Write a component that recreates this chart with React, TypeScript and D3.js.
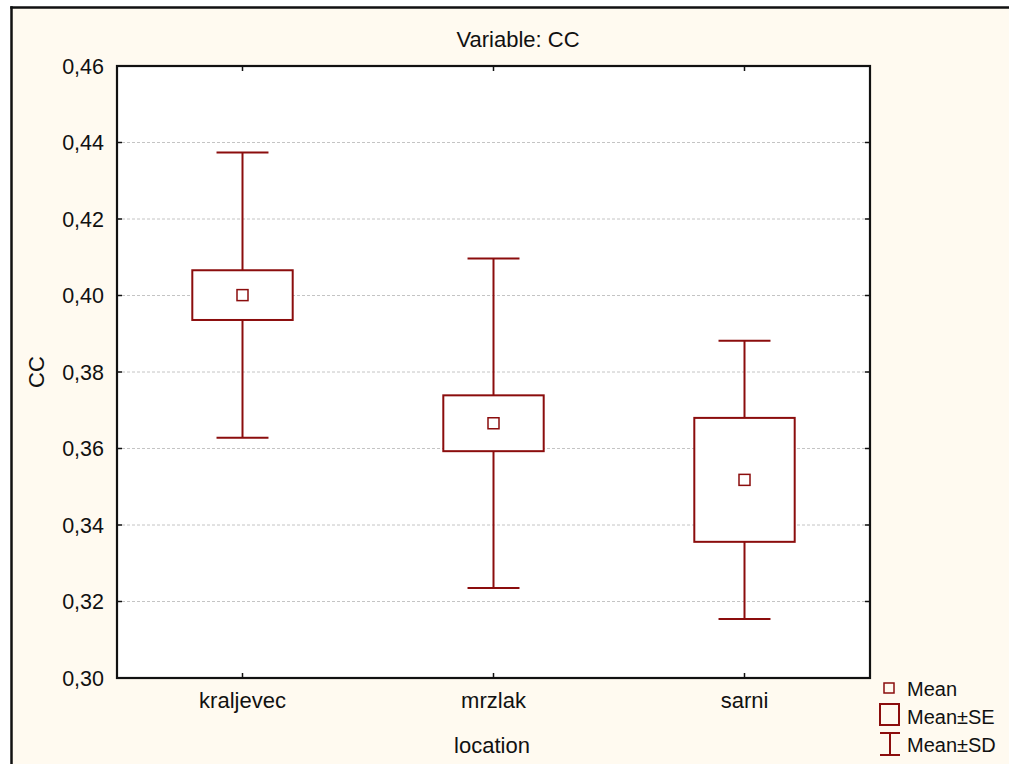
import React from "react";
import * as d3 from "d3";

const categories = ["kraljevec", "mrzlak", "sarni"];
const means = [0.4001, 0.3666, 0.3518];
const seHalf = [0.0065, 0.0073, 0.0162];
const sdHalf = [0.0373, 0.0431, 0.0364];
const yTicks = [0.3, 0.32, 0.34, 0.36, 0.38, 0.4, 0.42, 0.44, 0.46];
const legendItems = ["Mean", "Mean±SE", "Mean±SD"];

const W = 1009;
const H = 764;
const plot = { left: 117, top: 66, right: 870, bottom: 678 };
const RED = "#8b0d0d";
const FONT = "'Liberation Sans', Arial, sans-serif";

export default function App() {
  const x = d3.scaleBand<string>().domain(categories).range([plot.left, plot.right]).paddingInner(0).paddingOuter(0);
  const y = d3.scaleLinear().domain([0.3, 0.46]).range([plot.bottom, plot.top]);
  const fmt = (v: number) => d3.format(".2f")(v).replace(".", ",");
  const bw = x.bandwidth();
  const boxW = bw * 0.4;
  const capW = bw * 0.207;
  const meanSize = 11;

  return (
    <div style={{ position: "fixed", left: 0, top: 0, width: W, height: H, overflow: "hidden", background: "#fffaf0" }}>
      <svg width={W} height={H} style={{ display: "block", fontFamily: FONT }}>
        <rect x={0} y={0} width={W} height={H} fill="#ffffff" />
        <rect x={11.5} y={7.5} width={W} height={H} fill="#fffaf0" />
        <line x1={10.25} x2={W} y1={7.5} y2={7.5} stroke="#111" strokeWidth={2.5} />
        <line x1={11.5} x2={11.5} y1={6.25} y2={H} stroke="#111" strokeWidth={2.5} />
        <rect x={plot.left} y={plot.top} width={plot.right - plot.left} height={plot.bottom - plot.top} fill="#ffffff" />
        {yTicks.filter((t) => t > 0.3 && t < 0.46).map((t) => (
          <line key={"g" + t} x1={plot.left} x2={plot.right} y1={y(t)} y2={y(t)} stroke="#c4c4c4" strokeWidth={1} strokeDasharray="3,2" />
        ))}
        {yTicks.map((t) => (
          <g key={"t" + t}>
            <line x1={plot.left} x2={plot.left + 5} y1={y(t)} y2={y(t)} stroke="#111" strokeWidth={1.5} />
            <line x1={plot.right} x2={plot.right - 5} y1={y(t)} y2={y(t)} stroke="#111" strokeWidth={1.5} />
            <text x={plot.left - 13} y={y(t)} dy="0.36em" textAnchor="end" fontSize={21.5} fill="#111">{fmt(t)}</text>
          </g>
        ))}
        {categories.map((c) => {
          const cx = x(c)! + bw / 2;
          return (
            <g key={"xt" + c}>
              <line x1={cx} x2={cx} y1={plot.bottom} y2={plot.bottom - 5} stroke="#111" strokeWidth={1.5} />
              <line x1={cx} x2={cx} y1={plot.top} y2={plot.top + 5} stroke="#111" strokeWidth={1.5} />
              <text x={cx} y={708} textAnchor="middle" fontSize={22} fill="#111">{c}</text>
            </g>
          );
        })}
        {categories.map((c, i) => {
          const cx = x(c)! + bw / 2;
          const m = means[i];
          const seT = y(m + seHalf[i]);
          const seB = y(m - seHalf[i]);
          const sdT = y(m + sdHalf[i]);
          const sdB = y(m - sdHalf[i]);
          return (
            <g key={"d" + c} stroke={RED} fill="none">
              <line x1={cx} x2={cx} y1={sdT} y2={seT} strokeWidth={2} />
              <line x1={cx} x2={cx} y1={seB} y2={sdB} strokeWidth={2} />
              <line x1={cx - capW / 2} x2={cx + capW / 2} y1={sdT} y2={sdT} strokeWidth={2} />
              <line x1={cx - capW / 2} x2={cx + capW / 2} y1={sdB} y2={sdB} strokeWidth={2} />
              <rect x={cx - boxW / 2} y={seT} width={boxW} height={seB - seT} strokeWidth={2} fill="#fff" />
              <rect x={cx - meanSize / 2} y={y(m) - meanSize / 2} width={meanSize} height={meanSize} strokeWidth={1.5} />
            </g>
          );
        })}
        <rect x={plot.left} y={plot.top} width={plot.right - plot.left} height={plot.bottom - plot.top} fill="none" stroke="#111" strokeWidth={2.2} />
        <text x={518} y={47} textAnchor="middle" fontSize={22} fill="#111">Variable: CC</text>
        <text transform={`translate(44,${(plot.top + plot.bottom) / 2}) rotate(-90)`} textAnchor="middle" fontSize={22} fill="#111">CC</text>
        <text x={492} y={753} textAnchor="middle" fontSize={22} fill="#111">location</text>
        <g stroke={RED} fill="none">
          <rect x={884} y={683} width={10} height={10} strokeWidth={1.5} />
          <rect x={880} y={704} width={19} height={21} strokeWidth={2} />
          <line x1={880} x2={900} y1={733} y2={733} strokeWidth={2} />
          <line x1={880} x2={900} y1={755} y2={755} strokeWidth={2} />
          <line x1={890} x2={890} y1={733} y2={755} strokeWidth={2} />
        </g>
        {legendItems.map((t, i) => (
          <text key={t} x={907} y={696 + i * 28} fontSize={20} fill="#111">{t}</text>
        ))}
      </svg>
    </div>
  );
}
